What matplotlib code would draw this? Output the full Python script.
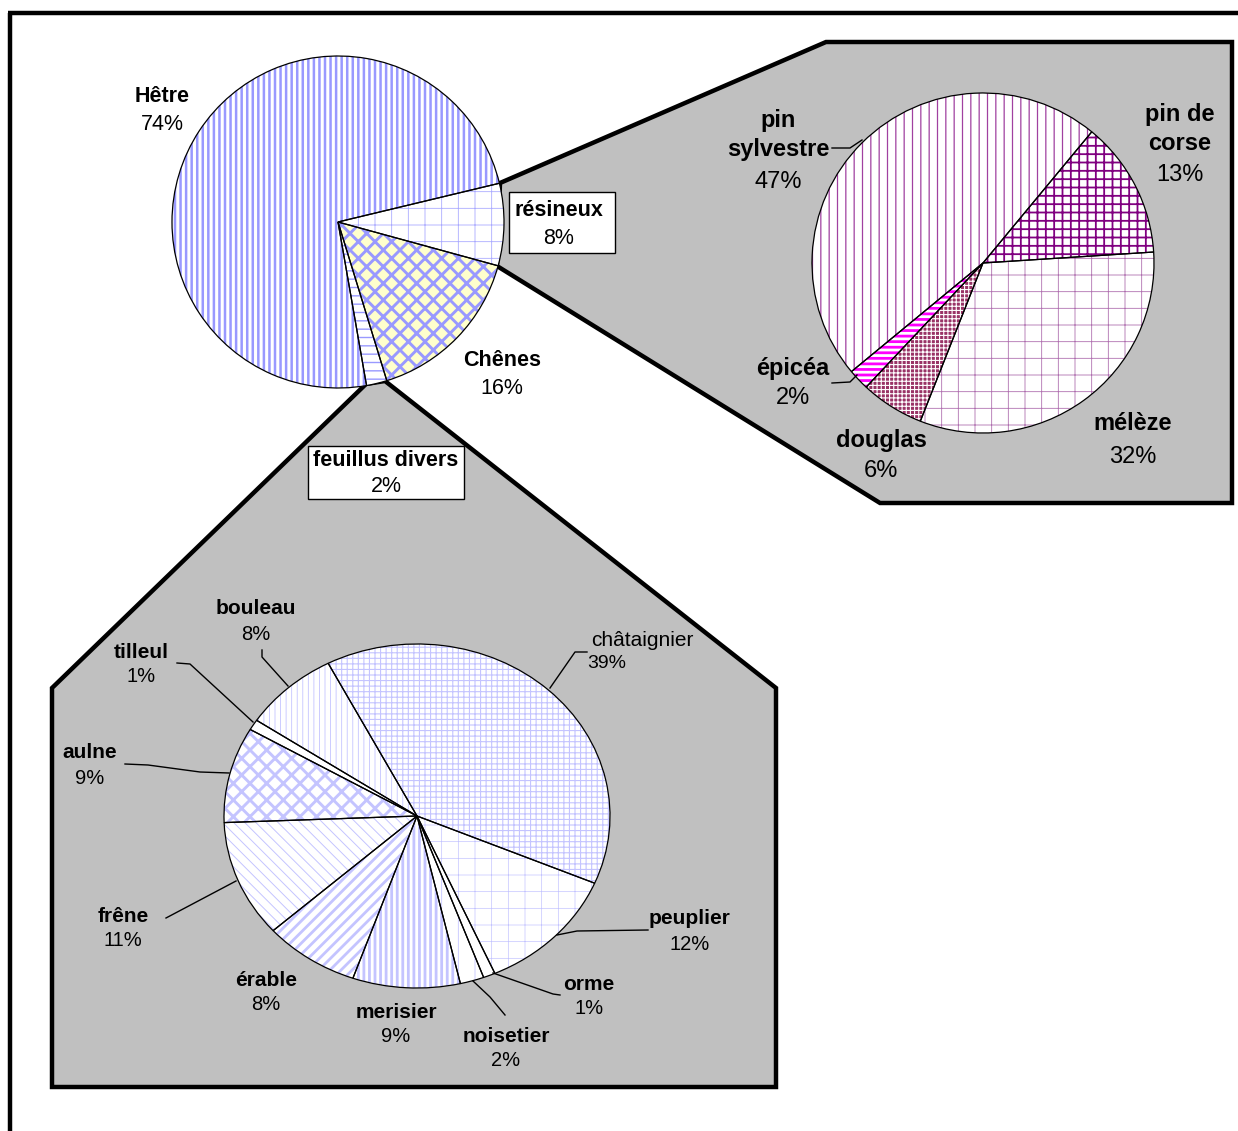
import numpy as np
import matplotlib
matplotlib.use("Agg")
import matplotlib.pyplot as plt
from matplotlib.patches import Polygon, Rectangle

plt.rcParams['font.family'] = ['Liberation Sans', 'DejaVu Sans']
plt.rcParams['hatch.linewidth'] = 1.0

# main pie : forest composition
main_labels = ["résineux", "Chênes", "feuillus divers", "Hêtre"]
main_vals = [8, 16, 2, 74]

# conifers breakdown
res_labels = ["pin de corse", "mélèze", "douglas", "épicéa", "pin sylvestre"]
res_vals = [13, 32, 6, 2, 47]

# misc. broadleaves breakdown
feu_labels = ["châtaignier", "peuplier", "orme", "noisetier", "merisier",
              "érable", "frêne", "aulne", "tilleul", "bouleau"]
feu_vals = [39, 12, 1, 2, 9, 8, 11, 9, 1, 8]

W, H = 1238, 1131
fig = plt.figure(figsize=(W / 100, H / 100), dpi=100)

bg = fig.add_axes([0, 0, 1, 1], zorder=0)
bg.set_xlim(0, W); bg.set_ylim(H, 0); bg.axis('off')
top = fig.add_axes([0, 0, 1, 1], zorder=5)
top.set_xlim(0, W); top.set_ylim(H, 0); top.axis('off')
top.patch.set_alpha(0)

# outer frame
bg.plot([8, W], [13, 13], color='black', lw=3.2, solid_capstyle='butt')
bg.plot([10, 10], [13, H], color='black', lw=3.2, solid_capstyle='butt')

# grey zoom areas
bg.add_patch(Polygon([(500, 183), (826, 42), (1232, 42), (1232, 503), (880, 503), (497, 266)],
                     closed=True, facecolor='#c0c0c0', edgecolor='black', lw=3.2, joinstyle='miter'))
bg.add_patch(Polygon([(366, 384), (52, 688), (52, 1087), (776, 1087), (776, 688), (385, 381)],
                     closed=True, facecolor='#c0c0c0', edgecolor='black', lw=3.2, joinstyle='miter'))


def pix_axes(cx, cy, rx, ry):
    return fig.add_axes([(cx - rx) / W, 1 - (cy + ry) / H, 2 * rx / W, 2 * ry / H], zorder=2)


def hatched_pie(a, vals, start, faces, hatches, hcols, hlws):
    w1, _ = a.pie(vals, startangle=start, counterclock=False, radius=1,
                  wedgeprops=dict(linewidth=0))
    for w, fc, h, hc, lw in zip(w1, faces, hatches, hcols, hlws):
        w.set_facecolor(fc)
        w.set_edgecolor(hc)
        w.set_hatch(h)
        if hasattr(w, 'set_hatch_linewidth'):
            w.set_hatch_linewidth(lw)
        w.set_clip_on(False)
    w2, _ = a.pie(vals, startangle=start, counterclock=False, radius=1,
                  wedgeprops=dict(facecolor='none', edgecolor='black', linewidth=0.9))
    for w in w2:
        w.set_clip_on(False)
    a.set_xlim(-1, 1); a.set_ylim(-1, 1); a.set_aspect('auto')
    a.axis('off')


blue = '#9999ff'
lblue = '#c4c4ff'
purple = '#800080'

a1 = pix_axes(338, 222, 166, 166)
hatched_pie(a1, main_vals, 13.5,
            ['white', '#ffffcc', 'white', 'white'],
            ['+', 'xx', '--', '|||'],
            ['#aaaaff', blue, blue, blue],
            [0.6, 2.1, 1.0, 1.8])

a2 = pix_axes(983, 263, 171, 170)
hatched_pie(a2, res_vals, 50.5,
            ['white', 'white', '#993366', 'white', 'white'],
            ['++', '+', '++++', '---', '||'],
            [purple, '#b070b0', 'white', '#ff00ff', '#a040a0'],
            [1.3, 0.6, 0.8, 2.0, 0.9])

a3 = pix_axes(417, 816, 193, 172)
hatched_pie(a3, feu_vals, 117.4,
            ['white'] * 10,
            ['+++', '+', '', '|', '|||', '///', '\\\\\\', 'xx', '', '|||'],
            [lblue] * 10,
            [0.8, 0.5, 0.5, 0.6, 2.0, 2.0, 0.7, 2.1, 0.5, 0.6])

# label boxes
top.add_patch(Rectangle((509, 192), 106, 61, facecolor='white', edgecolor='black', lw=1))
top.add_patch(Rectangle((308, 446), 156, 53, facecolor='white', edgecolor='black', lw=1))

# labels (name, pct, x, y name, y pct)
main_txt = [("Hêtre", "74%", 162, 97, 124), ("résineux", "8%", 559, 211, 238),
            ("Chênes", "16%", 502, 361, 388), ("feuillus divers", "2%", 386, 460, 487)]
for name, pct, x, y1, y2 in main_txt:
    top.text(x, y1, name, ha='center', va='center', fontsize=15.5, fontweight='bold')
    top.text(x, y2, pct, ha='center', va='center', fontsize=15.5)

res_txt = [("pin de\ncorse", "13%", 1180, 129, 175), ("mélèze", "32%", 1133, 424, 457),
           ("douglas", "6%", 881, 441, 471), ("épicéa", "2%", 793, 368, 398),
           ("pin\nsylvestre", "47%", 778, 135, 182)]
for name, pct, x, y1, y2 in res_txt:
    top.text(x, y1, name, ha='center', va='center', fontsize=17, fontweight='bold',
             linespacing=1.38)
    top.text(x, y2, pct, ha='center', va='center', fontsize=17)

feu_txt = [("bouleau", "8%", 256, 609, 634), ("tilleul", "1%", 141, 653, 677),
           ("aulne", "9%", 90, 753, 779), ("frêne", "11%", 123, 916, 941),
           ("érable", "8%", 266, 980, 1005), ("merisier", "9%", 396, 1012, 1036),
           ("noisetier", "2%", 506, 1036, 1061), ("orme", "1%", 589, 985, 1008),
           ("peuplier", "12%", 690, 919, 945)]
for name, pct, x, y1, y2 in feu_txt:
    top.text(x, y1, name, ha='center', va='center', fontsize=15, fontweight='bold')
    top.text(x, y2, pct, ha='center', va='center', fontsize=14.5)
top.text(642, 641, "châtaignier", ha='center', va='center', fontsize=15)
top.text(607, 663, "39%", ha='center', va='center', fontsize=14)

# leader lines
leaders = [
    [(832, 148), (850, 148), (862, 140)],
    [(832, 383), (850, 382), (857, 375)],
    [(262, 650), (262, 657), (288, 686)],
    [(177, 663), (190, 664), (253, 722)],
    [(125, 764), (148, 765), (200, 772), (229, 773)],
    [(166, 918), (236, 881)],
    [(587, 652), (575, 652), (550, 688)],
    [(648, 930), (577, 931), (557, 935)],
    [(560, 995), (553, 994), (493, 973)],
    [(505, 1015), (490, 997), (473, 981)],
]
for pts in leaders:
    xs, ys = zip(*pts)
    top.plot(xs, ys, color='black', lw=1.0)

fig.savefig("out.png", dpi=100, facecolor='white')
